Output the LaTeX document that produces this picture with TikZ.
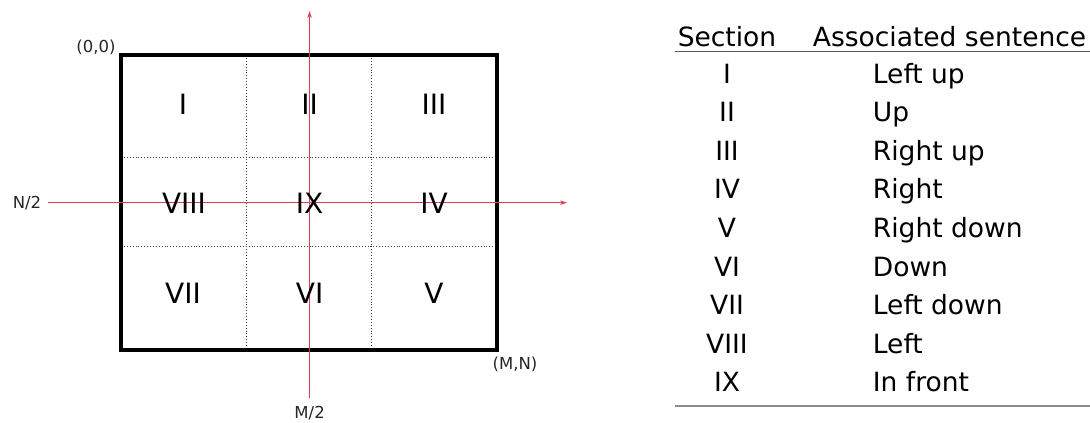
\documentclass[tikz,border=0pt]{standalone}
\usepackage{fontspec}
\setmainfont{DejaVu Sans}
\usetikzlibrary{arrows.meta}
\definecolor{axisred}{RGB}{220,60,80}
\definecolor{rulegray}{RGB}{90,90,90}
\tikzset{
  num/.style={font=\fontsize{28}{30}\selectfont, anchor=center, inner sep=0pt},
  lbl/.style={font=\fontsize{16.5}{18}\selectfont, inner sep=0pt, text=black!85},
  tab/.style={font=\fontsize{26.5}{29}\selectfont, inner sep=0pt, text=black},
  axis/.style={draw=axisred, line width=1.4pt, -{Stealth[length=7pt,width=4.5pt]}},
  grid/.style={draw=black!75, line width=0.9pt, dotted},
  frame/.style={draw=black, line width=3.8pt}
}
\begin{document}
\begin{tikzpicture}[x=1pt,y=-1pt]
\useasboundingbox (0,0) rectangle (1090,423);
% grid dotted lines
\draw[grid] (246,55) -- (246,350);
\draw[grid] (371.5,55) -- (371.5,350);
\draw[grid] (121,157.7) -- (497,157.7);
\draw[grid] (121,246.7) -- (497,246.7);
% frame
\draw[frame] (121,55) rectangle (497,350);
% axes
\coordinate (hs) at (48,202.7);
\coordinate (he) at (567,202.7);
\coordinate (vs) at (309.6,398);
\coordinate (ve) at (309.6,11);
\draw[axis] (hs) -- (he);
\draw[axis] (vs) -- (ve);
% numerals
\node[num] (n1) at (183,104) {I};
\node[num] (n2) at (309.6,104) {II};
\node[num] (n3) at (434,104) {III};
\node[num] (n8) at (184,203) {VIII};
\node[num] (n9) at (309.6,203) {IX};
\node[num] (n4) at (434,203) {IV};
\node[num] (n7) at (183,293) {VII};
\node[num] (n6) at (309.6,293) {VI};
\node[num] (n5) at (434,293) {V};
% labels
\node[lbl] (l00) at (96,47) {(0,0)};
\node[lbl] (lmn) at (515,364) {(M,N)};
\node[lbl] (ln2) at (27,203) {N/2};
\node[lbl] (lm2) at (309.6,413) {M/2};
% table
\node[tab, anchor=base] (hs1) at (727,46.7) {Section};
\node[tab, anchor=base west] (hs2) at (812.7,46.7) {Associated sentence};
\draw[rulegray, line width=1pt] (675,51.7) -- (1090,51.7);
\foreach \r/\s/\t [count=\i from 0] in {I/Left up,II/Up,III/Right up,IV/Right,V/Right down,VI/Down,VII/Left down,VIII/Left,IX/In front}{
  \node[tab, anchor=base] (r\i a) at (727,{83.3+38.55*\i}) {\r};
  \node[tab, anchor=base west] (r\i b) at (872.7,{83.3+38.55*\i}) {\s};
}
\draw[black!45, line width=1.2pt] (675,406) -- (1090,406);
\end{tikzpicture}
\end{document}
